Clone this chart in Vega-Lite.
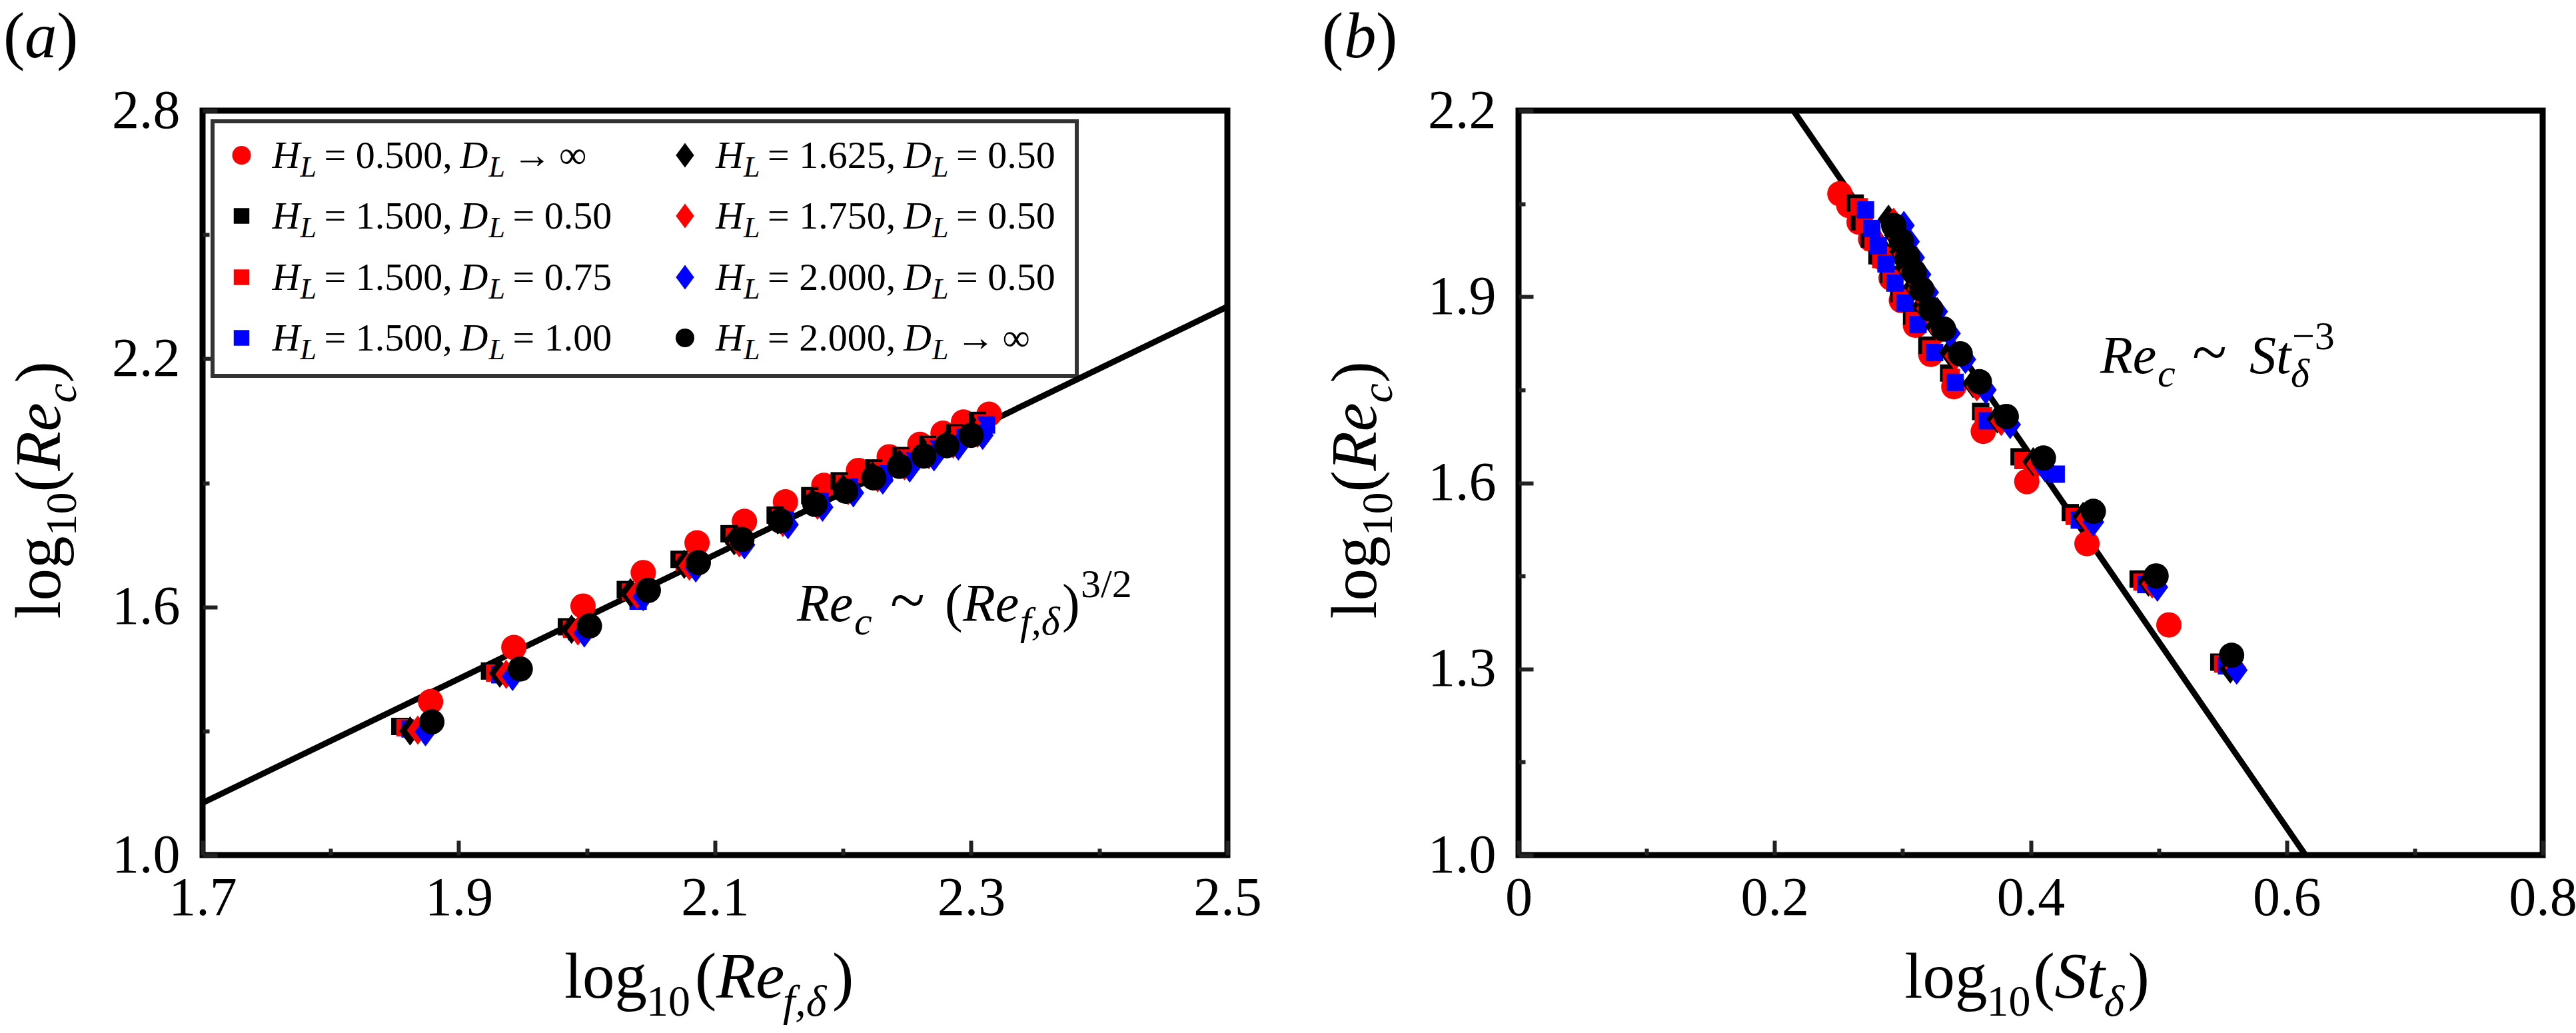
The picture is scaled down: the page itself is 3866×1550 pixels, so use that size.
{
  "$schema": "https://vega.github.io/schema/vega-lite/v6.json",
  "background": "white",
  "padding": {"left": 0, "top": 3, "right": 5, "bottom": 5},
  "bounds": "flush",
  "spacing": 437,
  "datasets": {
    "pts": [
      {"s":"HL=0.500, DL=inf","ref":1.878,"st":0.508,"rec":1.371},
      {"s":"HL=0.500, DL=inf","ref":1.943,"st":0.444,"rec":1.502},
      {"s":"HL=0.500, DL=inf","ref":1.997,"st":0.397,"rec":1.602},
      {"s":"HL=0.500, DL=inf","ref":2.044,"st":0.363,"rec":1.683},
      {"s":"HL=0.500, DL=inf","ref":2.086,"st":0.340,"rec":1.755},
      {"s":"HL=0.500, DL=inf","ref":2.123,"st":0.322,"rec":1.807},
      {"s":"HL=0.500, DL=inf","ref":2.155,"st":0.310,"rec":1.854},
      {"s":"HL=0.500, DL=inf","ref":2.185,"st":0.299,"rec":1.894},
      {"s":"HL=0.500, DL=inf","ref":2.212,"st":0.291,"rec":1.930},
      {"s":"HL=0.500, DL=inf","ref":2.236,"st":0.284,"rec":1.963},
      {"s":"HL=0.500, DL=inf","ref":2.260,"st":0.275,"rec":1.993},
      {"s":"HL=0.500, DL=inf","ref":2.278,"st":0.266,"rec":2.020},
      {"s":"HL=0.500, DL=inf","ref":2.294,"st":0.258,"rec":2.047},
      {"s":"HL=0.500, DL=inf","ref":2.314,"st":0.251,"rec":2.066},
      {"s":"HL=1.500, DL=0.50","ref":1.854,"st":0.547,"rec":1.311},
      {"s":"HL=1.500, DL=0.50","ref":1.924,"st":0.484,"rec":1.445},
      {"s":"HL=1.500, DL=0.50","ref":1.984,"st":0.431,"rec":1.552},
      {"s":"HL=1.500, DL=0.50","ref":2.030,"st":0.391,"rec":1.642},
      {"s":"HL=1.500, DL=0.50","ref":2.072,"st":0.361,"rec":1.715},
      {"s":"HL=1.500, DL=0.50","ref":2.111,"st":0.336,"rec":1.777},
      {"s":"HL=1.500, DL=0.50","ref":2.147,"st":0.319,"rec":1.822},
      {"s":"HL=1.500, DL=0.50","ref":2.174,"st":0.307,"rec":1.869},
      {"s":"HL=1.500, DL=0.50","ref":2.197,"st":0.297,"rec":1.905},
      {"s":"HL=1.500, DL=0.50","ref":2.224,"st":0.289,"rec":1.936},
      {"s":"HL=1.500, DL=0.50","ref":2.245,"st":0.280,"rec":1.966},
      {"s":"HL=1.500, DL=0.50","ref":2.266,"st":0.274,"rec":1.993},
      {"s":"HL=1.500, DL=0.50","ref":2.287,"st":0.266,"rec":2.021},
      {"s":"HL=1.500, DL=0.50","ref":2.305,"st":0.263,"rec":2.051},
      {"s":"HL=1.500, DL=0.75","ref":1.858,"st":0.550,"rec":1.308},
      {"s":"HL=1.500, DL=0.75","ref":1.928,"st":0.487,"rec":1.440},
      {"s":"HL=1.500, DL=0.75","ref":1.988,"st":0.434,"rec":1.546},
      {"s":"HL=1.500, DL=0.75","ref":2.034,"st":0.394,"rec":1.636},
      {"s":"HL=1.500, DL=0.75","ref":2.076,"st":0.363,"rec":1.708},
      {"s":"HL=1.500, DL=0.75","ref":2.115,"st":0.338,"rec":1.770},
      {"s":"HL=1.500, DL=0.75","ref":2.151,"st":0.322,"rec":1.816},
      {"s":"HL=1.500, DL=0.75","ref":2.178,"st":0.309,"rec":1.862},
      {"s":"HL=1.500, DL=0.75","ref":2.201,"st":0.299,"rec":1.898},
      {"s":"HL=1.500, DL=0.75","ref":2.228,"st":0.291,"rec":1.930},
      {"s":"HL=1.500, DL=0.75","ref":2.249,"st":0.283,"rec":1.960},
      {"s":"HL=1.500, DL=0.75","ref":2.270,"st":0.277,"rec":1.988},
      {"s":"HL=1.500, DL=0.75","ref":2.291,"st":0.270,"rec":2.016},
      {"s":"HL=1.500, DL=0.75","ref":2.309,"st":0.266,"rec":2.045},
      {"s":"HL=1.500, DL=1.00","ref":1.862,"st":0.553,"rec":1.305},
      {"s":"HL=1.500, DL=1.00","ref":1.932,"st":0.490,"rec":1.436},
      {"s":"HL=1.500, DL=1.00","ref":1.992,"st":0.438,"rec":1.540},
      {"s":"HL=1.500, DL=1.00","ref":2.040,"st":0.420,"rec":1.614},
      {"s":"HL=1.500, DL=1.00","ref":2.080,"st":0.366,"rec":1.700},
      {"s":"HL=1.500, DL=1.00","ref":2.119,"st":0.341,"rec":1.762},
      {"s":"HL=1.500, DL=1.00","ref":2.155,"st":0.325,"rec":1.810},
      {"s":"HL=1.500, DL=1.00","ref":2.182,"st":0.312,"rec":1.855},
      {"s":"HL=1.500, DL=1.00","ref":2.205,"st":0.302,"rec":1.890},
      {"s":"HL=1.500, DL=1.00","ref":2.232,"st":0.294,"rec":1.922},
      {"s":"HL=1.500, DL=1.00","ref":2.253,"st":0.287,"rec":1.953},
      {"s":"HL=1.500, DL=1.00","ref":2.274,"st":0.281,"rec":1.982},
      {"s":"HL=1.500, DL=1.00","ref":2.295,"st":0.276,"rec":2.010},
      {"s":"HL=1.500, DL=1.00","ref":2.312,"st":0.271,"rec":2.040},
      {"s":"HL=1.625, DL=0.50","ref":1.862,"st":0.556,"rec":1.300},
      {"s":"HL=1.625, DL=0.50","ref":1.932,"st":0.492,"rec":1.440},
      {"s":"HL=1.625, DL=0.50","ref":1.988,"st":0.441,"rec":1.546},
      {"s":"HL=1.625, DL=0.50","ref":2.034,"st":0.402,"rec":1.634},
      {"s":"HL=1.625, DL=0.50","ref":2.076,"st":0.374,"rec":1.703},
      {"s":"HL=1.625, DL=0.50","ref":2.115,"st":0.355,"rec":1.760},
      {"s":"HL=1.625, DL=0.50","ref":2.149,"st":0.337,"rec":1.810},
      {"s":"HL=1.625, DL=0.50","ref":2.176,"st":0.326,"rec":1.852},
      {"s":"HL=1.625, DL=0.50","ref":2.200,"st":0.316,"rec":1.886},
      {"s":"HL=1.625, DL=0.50","ref":2.223,"st":0.309,"rec":1.917},
      {"s":"HL=1.625, DL=0.50","ref":2.244,"st":0.303,"rec":1.946},
      {"s":"HL=1.625, DL=0.50","ref":2.263,"st":0.298,"rec":1.973},
      {"s":"HL=1.625, DL=0.50","ref":2.282,"st":0.294,"rec":1.999},
      {"s":"HL=1.625, DL=0.50","ref":2.302,"st":0.289,"rec":2.025},
      {"s":"HL=1.750, DL=0.50","ref":1.868,"st":0.560,"rec":1.302},
      {"s":"HL=1.750, DL=0.50","ref":1.937,"st":0.495,"rec":1.437},
      {"s":"HL=1.750, DL=0.50","ref":1.993,"st":0.444,"rec":1.542},
      {"s":"HL=1.750, DL=0.50","ref":2.039,"st":0.405,"rec":1.630},
      {"s":"HL=1.750, DL=0.50","ref":2.080,"st":0.377,"rec":1.699},
      {"s":"HL=1.750, DL=0.50","ref":2.119,"st":0.358,"rec":1.755},
      {"s":"HL=1.750, DL=0.50","ref":2.153,"st":0.341,"rec":1.804},
      {"s":"HL=1.750, DL=0.50","ref":2.180,"st":0.329,"rec":1.846},
      {"s":"HL=1.750, DL=0.50","ref":2.204,"st":0.319,"rec":1.881},
      {"s":"HL=1.750, DL=0.50","ref":2.227,"st":0.312,"rec":1.912},
      {"s":"HL=1.750, DL=0.50","ref":2.248,"st":0.306,"rec":1.941},
      {"s":"HL=1.750, DL=0.50","ref":2.267,"st":0.301,"rec":1.968},
      {"s":"HL=1.750, DL=0.50","ref":2.286,"st":0.297,"rec":1.994},
      {"s":"HL=1.750, DL=0.50","ref":2.305,"st":0.293,"rec":2.020},
      {"s":"HL=2.000, DL=0.50","ref":1.874,"st":0.561,"rec":1.298},
      {"s":"HL=2.000, DL=0.50","ref":1.942,"st":0.499,"rec":1.432},
      {"s":"HL=2.000, DL=0.50","ref":1.998,"st":0.449,"rec":1.537},
      {"s":"HL=2.000, DL=0.50","ref":2.044,"st":0.411,"rec":1.625},
      {"s":"HL=2.000, DL=0.50","ref":2.085,"st":0.384,"rec":1.694},
      {"s":"HL=2.000, DL=0.50","ref":2.123,"st":0.365,"rec":1.750},
      {"s":"HL=2.000, DL=0.50","ref":2.157,"st":0.349,"rec":1.799},
      {"s":"HL=2.000, DL=0.50","ref":2.184,"st":0.337,"rec":1.841},
      {"s":"HL=2.000, DL=0.50","ref":2.208,"st":0.327,"rec":1.876},
      {"s":"HL=2.000, DL=0.50","ref":2.231,"st":0.320,"rec":1.907},
      {"s":"HL=2.000, DL=0.50","ref":2.252,"st":0.314,"rec":1.936},
      {"s":"HL=2.000, DL=0.50","ref":2.271,"st":0.309,"rec":1.963},
      {"s":"HL=2.000, DL=0.50","ref":2.290,"st":0.305,"rec":1.989},
      {"s":"HL=2.000, DL=0.50","ref":2.309,"st":0.301,"rec":2.015},
      {"s":"HL=2.000, DL=inf","ref":1.879,"st":0.557,"rec":1.322},
      {"s":"HL=2.000, DL=inf","ref":1.948,"st":0.498,"rec":1.450},
      {"s":"HL=2.000, DL=inf","ref":2.002,"st":0.449,"rec":1.554},
      {"s":"HL=2.000, DL=inf","ref":2.048,"st":0.410,"rec":1.640},
      {"s":"HL=2.000, DL=inf","ref":2.087,"st":0.381,"rec":1.707},
      {"s":"HL=2.000, DL=inf","ref":2.121,"st":0.360,"rec":1.763},
      {"s":"HL=2.000, DL=inf","ref":2.151,"st":0.345,"rec":1.808},
      {"s":"HL=2.000, DL=inf","ref":2.178,"st":0.332,"rec":1.848},
      {"s":"HL=2.000, DL=inf","ref":2.202,"st":0.322,"rec":1.880},
      {"s":"HL=2.000, DL=inf","ref":2.224,"st":0.315,"rec":1.912},
      {"s":"HL=2.000, DL=inf","ref":2.244,"st":0.309,"rec":1.940},
      {"s":"HL=2.000, DL=inf","ref":2.263,"st":0.304,"rec":1.965},
      {"s":"HL=2.000, DL=inf","ref":2.281,"st":0.299,"rec":1.990},
      {"s":"HL=2.000, DL=inf","ref":2.300,"st":0.293,"rec":2.015}
    ],
    "leg": [
      {"s":"HL=0.500, DL=inf","lx":1.73043,"ly":2.6920,"hv":"= 0.500,","dv":"→\u2009∞"},
      {"s":"HL=1.500, DL=0.50","lx":1.73043,"ly":2.5454,"hv":"= 1.500,","dv":"= 0.50"},
      {"s":"HL=1.500, DL=0.75","lx":1.73043,"ly":2.3971,"hv":"= 1.500,","dv":"= 0.75"},
      {"s":"HL=1.500, DL=1.00","lx":1.73043,"ly":2.2505,"hv":"= 1.500,","dv":"= 1.00"},
      {"s":"HL=1.625, DL=0.50","lx":2.07659,"ly":2.6920,"hv":"= 1.625,","dv":"= 0.50"},
      {"s":"HL=1.750, DL=0.50","lx":2.07659,"ly":2.5454,"hv":"= 1.750,","dv":"= 0.50"},
      {"s":"HL=2.000, DL=0.50","lx":2.07659,"ly":2.3971,"hv":"= 2.000,","dv":"= 0.50"},
      {"s":"HL=2.000, DL=inf","lx":2.07659,"ly":2.2505,"hv":"= 2.000,","dv":"→\u2009∞"}
    ],
    "fitA": [{"ref":1.7,"rec":1.126},{"ref":2.5,"rec":2.326}],
    "fitB": [{"st":0.2147,"rec":2.2},{"st":0.6147,"rec":1.0}]
  },
  "hconcat": [
    {
      "width": 1538,
      "height": 1117,
      "resolve": {"axis": {"x": "independent", "y": "independent"}},
      "layer": [
        {
          "data": {"values": [{}]},
          "mark": {"type": "rect", "fill": "white", "stroke": "#333", "strokeWidth": 6},
          "encoding": {
            "x": {"datum": 1.7078, "type": "quantitative", "axis": null},
            "x2": {"datum": 2.38244},
            "y": {"datum": 2.7742, "type": "quantitative", "axis": null},
            "y2": {"datum": 2.15864}
          }
        },
        {
          "data": {"name": "fitA"},
          "mark": {"type": "line", "color": "black", "strokeWidth": 9},
          "encoding": {
            "x": {"field": "ref", "type": "quantitative", "axis": null},
            "y": {"field": "rec", "type": "quantitative", "axis": null}
          }
        },
        {
          "data": {"name": "pts"},
          "mark": {"type": "point", "filled": true, "opacity": 1, "strokeWidth": 0},
          "encoding": {
            "x": {
              "field": "ref", "type": "quantitative",
              "scale": {"domain": [1.7, 2.5], "nice": false, "zero": false},
              "axis": {
                "title": null,
                "values": [1.7, 1.8, 1.9, 2.0, 2.1, 2.2, 2.3, 2.4, 2.5],
                "labelExpr": "round(datum.value*10) % 2 == 1 ? format(datum.value, '.1f') : ''",
                "tickSize": {"condition": {"test": "round(datum.value*10) % 2 == 1", "value": -22}, "value": -10},
                "labelPadding": 46
              }
            },
            "y": {
              "field": "rec", "type": "quantitative",
              "scale": {"domain": [1.0, 2.8], "nice": false, "zero": false},
              "axis": {
                "title": null,
                "values": [1.0, 1.3, 1.6, 1.9, 2.2, 2.5, 2.8],
                "labelExpr": "(round(datum.value*10) - 10) % 6 == 0 ? format(datum.value, '.1f') : ''",
                "tickSize": {"condition": {"test": "(round(datum.value*10) - 10) % 6 == 0", "value": -22}, "value": -10},
                "labelPadding": 56
              }
            },
            "color": {
              "field": "s", "type": "nominal", "legend": null,
              "scale": {
                "domain": ["HL=0.500, DL=inf","HL=1.500, DL=0.50","HL=1.500, DL=0.75","HL=1.500, DL=1.00","HL=1.625, DL=0.50","HL=1.750, DL=0.50","HL=2.000, DL=0.50","HL=2.000, DL=inf"],
                "range": ["#ff0000","#000000","#ff0000","#0000ff","#000000","#ff0000","#0000ff","#000000"]
              }
            },
            "shape": {
              "field": "s", "type": "nominal", "legend": null,
              "scale": {
                "domain": ["HL=0.500, DL=inf","HL=1.500, DL=0.50","HL=1.500, DL=0.75","HL=1.500, DL=1.00","HL=1.625, DL=0.50","HL=1.750, DL=0.50","HL=2.000, DL=0.50","HL=2.000, DL=inf"],
                "range": ["circle","square","square","square","M0,-1L0.74,0L0,1L-0.74,0Z","M0,-1L0.74,0L0,1L-0.74,0Z","M0,-1L0.74,0L0,1L-0.74,0Z","circle"]
              }
            },
            "size": {
              "field": "s", "type": "nominal", "legend": null,
              "scale": {
                "type": "ordinal",
                "domain": ["HL=0.500, DL=inf","HL=1.500, DL=0.50","HL=1.500, DL=0.75","HL=1.500, DL=1.00","HL=1.625, DL=0.50","HL=1.750, DL=0.50","HL=2.000, DL=0.50","HL=2.000, DL=inf"],
                "range": [1444, 676, 676, 676, 1936, 1936, 1936, 1444]
              }
            }
          }
        },
        {
          "data": {"name": "leg"},
          "transform": [{"filter": {"field": "s", "oneOf": ["HL=0.500, DL=inf", "HL=2.000, DL=inf"]}}],
          "mark": {"type": "point", "filled": true, "opacity": 1, "strokeWidth": 0, "size": 784},
          "encoding": {
            "x": {"field": "lx", "type": "quantitative", "axis": null},
            "y": {"field": "ly", "type": "quantitative", "axis": null},
            "color": {"field": "s", "type": "nominal", "legend": null},
            "shape": {"field": "s", "type": "nominal", "legend": null}
          }
        },
        {
          "data": {"name": "leg"},
          "transform": [{"filter": {"field": "s", "oneOf": ["HL=1.500, DL=0.50", "HL=1.500, DL=0.75", "HL=1.500, DL=1.00"]}}],
          "mark": {"type": "point", "filled": true, "opacity": 1, "strokeWidth": 0, "size": 552},
          "encoding": {
            "x": {"field": "lx", "type": "quantitative", "axis": null},
            "y": {"field": "ly", "type": "quantitative", "axis": null},
            "color": {"field": "s", "type": "nominal", "legend": null},
            "shape": {"field": "s", "type": "nominal", "legend": null}
          }
        },
        {
          "data": {"name": "leg"},
          "transform": [{"filter": {"field": "s", "oneOf": ["HL=1.625, DL=0.50", "HL=1.750, DL=0.50", "HL=2.000, DL=0.50"]}}],
          "mark": {"type": "point", "filled": true, "opacity": 1, "strokeWidth": 0, "size": 1369},
          "encoding": {
            "x": {"field": "lx", "type": "quantitative", "axis": null},
            "y": {"field": "ly", "type": "quantitative", "axis": null},
            "color": {"field": "s", "type": "nominal", "legend": null},
            "shape": {"field": "s", "type": "nominal", "legend": null}
          }
        },
        {
          "data": {"name": "leg"},
          "mark": {"type": "text", "text": "H", "fontSize": 58, "fontStyle": "italic", "align": "left", "dx": 46, "dy": 19},
          "encoding": {"x": {"field": "lx", "type": "quantitative", "axis": null}, "y": {"field": "ly", "type": "quantitative", "axis": null}}
        },
        {
          "data": {"name": "leg"},
          "mark": {"type": "text", "text": "L", "fontSize": 44, "fontStyle": "italic", "align": "left", "dx": 88, "dy": 32},
          "encoding": {"x": {"field": "lx", "type": "quantitative", "axis": null}, "y": {"field": "ly", "type": "quantitative", "axis": null}}
        },
        {
          "data": {"name": "leg"},
          "mark": {"type": "text", "fontSize": 58, "align": "left", "dx": 124, "dy": 19},
          "encoding": {"x": {"field": "lx", "type": "quantitative", "axis": null}, "y": {"field": "ly", "type": "quantitative", "axis": null}, "text": {"field": "hv"}}
        },
        {
          "data": {"name": "leg"},
          "mark": {"type": "text", "text": "D", "fontSize": 58, "fontStyle": "italic", "align": "left", "dx": 328, "dy": 19},
          "encoding": {"x": {"field": "lx", "type": "quantitative", "axis": null}, "y": {"field": "ly", "type": "quantitative", "axis": null}}
        },
        {
          "data": {"name": "leg"},
          "mark": {"type": "text", "text": "L", "fontSize": 44, "fontStyle": "italic", "align": "left", "dx": 371, "dy": 32},
          "encoding": {"x": {"field": "lx", "type": "quantitative", "axis": null}, "y": {"field": "ly", "type": "quantitative", "axis": null}}
        },
        {
          "data": {"name": "leg"},
          "mark": {"type": "text", "fontSize": 58, "align": "left", "dx": 407, "dy": 19},
          "encoding": {"x": {"field": "lx", "type": "quantitative", "axis": null}, "y": {"field": "ly", "type": "quantitative", "axis": null}, "text": {"field": "dv"}}
        },
        {
          "data": {"values": [{}]},
          "mark": {"type": "text", "text": "Re", "fontSize": 80, "fontStyle": "italic", "align": "left", "dx": 0, "dy": 0},
          "encoding": {"x": {"datum": 2.16398, "axis": null}, "y": {"datum": 1.56562, "axis": null}}
        },
        {
          "data": {"values": [{}]},
          "mark": {"type": "text", "text": "c", "fontSize": 60, "fontStyle": "italic", "align": "left", "dx": 86, "dy": 20},
          "encoding": {"x": {"datum": 2.16398, "axis": null}, "y": {"datum": 1.56562, "axis": null}}
        },
        {
          "data": {"values": [{}]},
          "mark": {"type": "text", "text": "~", "fontSize": 96, "align": "left", "dx": 140, "dy": 0},
          "encoding": {"x": {"datum": 2.16398, "axis": null}, "y": {"datum": 1.56562, "axis": null}}
        },
        {
          "data": {"values": [{}]},
          "mark": {"type": "text", "text": "(", "fontSize": 80, "align": "left", "dx": 222, "dy": 0},
          "encoding": {"x": {"datum": 2.16398, "axis": null}, "y": {"datum": 1.56562, "axis": null}}
        },
        {
          "data": {"values": [{}]},
          "mark": {"type": "text", "text": "Re", "fontSize": 80, "fontStyle": "italic", "align": "left", "dx": 249, "dy": 0},
          "encoding": {"x": {"datum": 2.16398, "axis": null}, "y": {"datum": 1.56562, "axis": null}}
        },
        {
          "data": {"values": [{}]},
          "mark": {"type": "text", "text": "f,δ", "fontSize": 60, "fontStyle": "italic", "align": "left", "dx": 335, "dy": 20},
          "encoding": {"x": {"datum": 2.16398, "axis": null}, "y": {"datum": 1.56562, "axis": null}}
        },
        {
          "data": {"values": [{}]},
          "mark": {"type": "text", "text": ")", "fontSize": 80, "align": "left", "dx": 398, "dy": 0},
          "encoding": {"x": {"datum": 2.16398, "axis": null}, "y": {"datum": 1.56562, "axis": null}}
        },
        {
          "data": {"values": [{}]},
          "mark": {"type": "text", "text": "3/2", "fontSize": 60, "align": "left", "dx": 426, "dy": -36},
          "encoding": {"x": {"datum": 2.16398, "axis": null}, "y": {"datum": 1.56562, "axis": null}}
        },
        {
          "data": {"values": [{}]},
          "mark": {"type": "text", "text": "(", "fontSize": 97, "align": "left", "dx": -299, "dy": -80},
          "encoding": {"x": {"datum": 1.7, "axis": null}, "y": {"datum": 2.8, "axis": null}}
        },
        {
          "data": {"values": [{}]},
          "mark": {"type": "text", "text": "a", "fontSize": 97, "fontStyle": "italic", "align": "left", "dx": -267, "dy": -80},
          "encoding": {"x": {"datum": 1.7, "axis": null}, "y": {"datum": 2.8, "axis": null}}
        },
        {
          "data": {"values": [{}]},
          "mark": {"type": "text", "text": ")", "fontSize": 97, "align": "left", "dx": -219, "dy": -80},
          "encoding": {"x": {"datum": 1.7, "axis": null}, "y": {"datum": 2.8, "axis": null}}
        },
        {
          "data": {"values": [{}]},
          "mark": {"type": "text", "text": "log", "fontSize": 97, "align": "left", "dx": -226, "dy": 214},
          "encoding": {"x": {"datum": 2.1, "axis": null}, "y": {"datum": 1.0, "axis": null}}
        },
        {
          "data": {"values": [{}]},
          "mark": {"type": "text", "text": "10", "fontSize": 66, "align": "left", "dx": -103, "dy": 241},
          "encoding": {"x": {"datum": 2.1, "axis": null}, "y": {"datum": 1.0, "axis": null}}
        },
        {
          "data": {"values": [{}]},
          "mark": {"type": "text", "text": "(", "fontSize": 97, "align": "left", "dx": -30, "dy": 214},
          "encoding": {"x": {"datum": 2.1, "axis": null}, "y": {"datum": 1.0, "axis": null}}
        },
        {
          "data": {"values": [{}]},
          "mark": {"type": "text", "text": "Re", "fontSize": 97, "fontStyle": "italic", "align": "left", "dx": 2, "dy": 214},
          "encoding": {"x": {"datum": 2.1, "axis": null}, "y": {"datum": 1.0, "axis": null}}
        },
        {
          "data": {"values": [{}]},
          "mark": {"type": "text", "text": "f,δ", "fontSize": 66, "fontStyle": "italic", "align": "left", "dx": 102, "dy": 241},
          "encoding": {"x": {"datum": 2.1, "axis": null}, "y": {"datum": 1.0, "axis": null}}
        },
        {
          "data": {"values": [{}]},
          "mark": {"type": "text", "text": ")", "fontSize": 97, "align": "left", "dx": 176, "dy": 214},
          "encoding": {"x": {"datum": 2.1, "axis": null}, "y": {"datum": 1.0, "axis": null}}
        },
        {
          "data": {"values": [{}]},
          "mark": {"type": "text", "text": "log", "fontSize": 97, "align": "left", "angle": 270, "dx": -204, "dy": -214},
          "encoding": {"x": {"datum": 1.7, "axis": null}, "y": {"datum": 1.9, "axis": null}}
        },
        {
          "data": {"values": [{}]},
          "mark": {"type": "text", "text": "10", "fontSize": 66, "align": "left", "angle": 270, "dx": -80, "dy": -190},
          "encoding": {"x": {"datum": 1.7, "axis": null}, "y": {"datum": 1.9, "axis": null}}
        },
        {
          "data": {"values": [{}]},
          "mark": {"type": "text", "text": "(", "fontSize": 97, "align": "left", "angle": 270, "dx": -14, "dy": -214},
          "encoding": {"x": {"datum": 1.7, "axis": null}, "y": {"datum": 1.9, "axis": null}}
        },
        {
          "data": {"values": [{}]},
          "mark": {"type": "text", "text": "Re", "fontSize": 97, "fontStyle": "italic", "align": "left", "angle": 270, "dx": 18, "dy": -214},
          "encoding": {"x": {"datum": 1.7, "axis": null}, "y": {"datum": 1.9, "axis": null}}
        },
        {
          "data": {"values": [{}]},
          "mark": {"type": "text", "text": "c", "fontSize": 66, "fontStyle": "italic", "align": "left", "angle": 270, "dx": 120, "dy": -190},
          "encoding": {"x": {"datum": 1.7, "axis": null}, "y": {"datum": 1.9, "axis": null}}
        },
        {
          "data": {"values": [{}]},
          "mark": {"type": "text", "text": ")", "fontSize": 97, "align": "left", "angle": 270, "dx": 150, "dy": -214},
          "encoding": {"x": {"datum": 1.7, "axis": null}, "y": {"datum": 1.9, "axis": null}}
        }
      ]
    },
    {
      "width": 1537,
      "height": 1117,
      "resolve": {"axis": {"x": "independent", "y": "independent"}},
      "layer": [
        {
          "data": {"name": "fitB"},
          "mark": {"type": "line", "color": "black", "strokeWidth": 9},
          "encoding": {
            "x": {"field": "st", "type": "quantitative", "axis": null},
            "y": {"field": "rec", "type": "quantitative", "axis": null}
          }
        },
        {
          "data": {"name": "pts"},
          "mark": {"type": "point", "filled": true, "opacity": 1, "strokeWidth": 0},
          "encoding": {
            "x": {
              "field": "st", "type": "quantitative",
              "scale": {"domain": [0, 0.8], "nice": false, "zero": false},
              "axis": {
                "title": null,
                "values": [0, 0.1, 0.2, 0.3, 0.4, 0.5, 0.6, 0.7, 0.8],
                "labelExpr": "round(datum.value*10) % 2 == 0 ? (datum.value == 0 ? '0' : format(datum.value, '.1f')) : ''",
                "tickSize": {"condition": {"test": "round(datum.value*10) % 2 == 0", "value": -22}, "value": -10},
                "labelPadding": 46
              }
            },
            "y": {
              "field": "rec", "type": "quantitative",
              "scale": {"domain": [1.0, 2.2], "nice": false, "zero": false},
              "axis": {
                "title": null,
                "values": [1.0, 1.15, 1.3, 1.45, 1.6, 1.75, 1.9, 2.05, 2.2],
                "labelExpr": "(round(datum.value*100) - 100) % 30 == 0 ? format(datum.value, '.1f') : ''",
                "tickSize": {"condition": {"test": "(round(datum.value*100) - 100) % 30 == 0", "value": -22}, "value": -10},
                "labelPadding": 56
              }
            },
            "color": {
              "field": "s", "type": "nominal", "legend": null,
              "scale": {
                "domain": ["HL=0.500, DL=inf","HL=1.500, DL=0.50","HL=1.500, DL=0.75","HL=1.500, DL=1.00","HL=1.625, DL=0.50","HL=1.750, DL=0.50","HL=2.000, DL=0.50","HL=2.000, DL=inf"],
                "range": ["#ff0000","#000000","#ff0000","#0000ff","#000000","#ff0000","#0000ff","#000000"]
              }
            },
            "shape": {
              "field": "s", "type": "nominal", "legend": null,
              "scale": {
                "domain": ["HL=0.500, DL=inf","HL=1.500, DL=0.50","HL=1.500, DL=0.75","HL=1.500, DL=1.00","HL=1.625, DL=0.50","HL=1.750, DL=0.50","HL=2.000, DL=0.50","HL=2.000, DL=inf"],
                "range": ["circle","square","square","square","M0,-1L0.74,0L0,1L-0.74,0Z","M0,-1L0.74,0L0,1L-0.74,0Z","M0,-1L0.74,0L0,1L-0.74,0Z","circle"]
              }
            },
            "size": {
              "field": "s", "type": "nominal", "legend": null,
              "scale": {
                "type": "ordinal",
                "domain": ["HL=0.500, DL=inf","HL=1.500, DL=0.50","HL=1.500, DL=0.75","HL=1.500, DL=1.00","HL=1.625, DL=0.50","HL=1.750, DL=0.50","HL=2.000, DL=0.50","HL=2.000, DL=inf"],
                "range": [1444, 676, 676, 676, 1936, 1936, 1936, 1444]
              }
            }
          }
        },
        {
          "data": {"values": [{}]},
          "mark": {"type": "text", "text": "Re", "fontSize": 80, "fontStyle": "italic", "align": "left", "dx": 0, "dy": 0},
          "encoding": {"x": {"datum": 0.45439, "axis": null}, "y": {"datum": 1.77672, "axis": null}}
        },
        {
          "data": {"values": [{}]},
          "mark": {"type": "text", "text": "c", "fontSize": 60, "fontStyle": "italic", "align": "left", "dx": 86, "dy": 20},
          "encoding": {"x": {"datum": 0.45439, "axis": null}, "y": {"datum": 1.77672, "axis": null}}
        },
        {
          "data": {"values": [{}]},
          "mark": {"type": "text", "text": "~", "fontSize": 96, "align": "left", "dx": 138, "dy": 0},
          "encoding": {"x": {"datum": 0.45439, "axis": null}, "y": {"datum": 1.77672, "axis": null}}
        },
        {
          "data": {"values": [{}]},
          "mark": {"type": "text", "text": "St", "fontSize": 80, "fontStyle": "italic", "align": "left", "dx": 224, "dy": 0},
          "encoding": {"x": {"datum": 0.45439, "axis": null}, "y": {"datum": 1.77672, "axis": null}}
        },
        {
          "data": {"values": [{}]},
          "mark": {"type": "text", "text": "δ", "fontSize": 60, "fontStyle": "italic", "align": "left", "dx": 286, "dy": 20},
          "encoding": {"x": {"datum": 0.45439, "axis": null}, "y": {"datum": 1.77672, "axis": null}}
        },
        {
          "data": {"values": [{}]},
          "mark": {"type": "text", "text": "−3", "fontSize": 60, "align": "left", "dx": 288, "dy": -36},
          "encoding": {"x": {"datum": 0.45439, "axis": null}, "y": {"datum": 1.77672, "axis": null}}
        },
        {
          "data": {"values": [{}]},
          "mark": {"type": "text", "text": "(", "fontSize": 97, "align": "left", "dx": -295, "dy": -80},
          "encoding": {"x": {"datum": 0, "axis": null}, "y": {"datum": 2.2, "axis": null}}
        },
        {
          "data": {"values": [{}]},
          "mark": {"type": "text", "text": "b", "fontSize": 97, "fontStyle": "italic", "align": "left", "dx": -262, "dy": -80},
          "encoding": {"x": {"datum": 0, "axis": null}, "y": {"datum": 2.2, "axis": null}}
        },
        {
          "data": {"values": [{}]},
          "mark": {"type": "text", "text": ")", "fontSize": 97, "align": "left", "dx": -214, "dy": -80},
          "encoding": {"x": {"datum": 0, "axis": null}, "y": {"datum": 2.2, "axis": null}}
        },
        {
          "data": {"values": [{}]},
          "mark": {"type": "text", "text": "log", "fontSize": 97, "align": "left", "dx": -189, "dy": 214},
          "encoding": {"x": {"datum": 0.4, "axis": null}, "y": {"datum": 1.0, "axis": null}}
        },
        {
          "data": {"values": [{}]},
          "mark": {"type": "text", "text": "10", "fontSize": 66, "align": "left", "dx": -66, "dy": 241},
          "encoding": {"x": {"datum": 0.4, "axis": null}, "y": {"datum": 1.0, "axis": null}}
        },
        {
          "data": {"values": [{}]},
          "mark": {"type": "text", "text": "(", "fontSize": 97, "align": "left", "dx": 4, "dy": 214},
          "encoding": {"x": {"datum": 0.4, "axis": null}, "y": {"datum": 1.0, "axis": null}}
        },
        {
          "data": {"values": [{}]},
          "mark": {"type": "text", "text": "St", "fontSize": 97, "fontStyle": "italic", "align": "left", "dx": 36, "dy": 214},
          "encoding": {"x": {"datum": 0.4, "axis": null}, "y": {"datum": 1.0, "axis": null}}
        },
        {
          "data": {"values": [{}]},
          "mark": {"type": "text", "text": "δ", "fontSize": 66, "fontStyle": "italic", "align": "left", "dx": 110, "dy": 241},
          "encoding": {"x": {"datum": 0.4, "axis": null}, "y": {"datum": 1.0, "axis": null}}
        },
        {
          "data": {"values": [{}]},
          "mark": {"type": "text", "text": ")", "fontSize": 97, "align": "left", "dx": 146, "dy": 214},
          "encoding": {"x": {"datum": 0.4, "axis": null}, "y": {"datum": 1.0, "axis": null}}
        },
        {
          "data": {"values": [{}]},
          "mark": {"type": "text", "text": "log", "fontSize": 97, "align": "left", "angle": 270, "dx": -204, "dy": -214},
          "encoding": {"x": {"datum": 0, "axis": null}, "y": {"datum": 1.6, "axis": null}}
        },
        {
          "data": {"values": [{}]},
          "mark": {"type": "text", "text": "10", "fontSize": 66, "align": "left", "angle": 270, "dx": -80, "dy": -190},
          "encoding": {"x": {"datum": 0, "axis": null}, "y": {"datum": 1.6, "axis": null}}
        },
        {
          "data": {"values": [{}]},
          "mark": {"type": "text", "text": "(", "fontSize": 97, "align": "left", "angle": 270, "dx": -14, "dy": -214},
          "encoding": {"x": {"datum": 0, "axis": null}, "y": {"datum": 1.6, "axis": null}}
        },
        {
          "data": {"values": [{}]},
          "mark": {"type": "text", "text": "Re", "fontSize": 97, "fontStyle": "italic", "align": "left", "angle": 270, "dx": 18, "dy": -214},
          "encoding": {"x": {"datum": 0, "axis": null}, "y": {"datum": 1.6, "axis": null}}
        },
        {
          "data": {"values": [{}]},
          "mark": {"type": "text", "text": "c", "fontSize": 66, "fontStyle": "italic", "align": "left", "angle": 270, "dx": 120, "dy": -190},
          "encoding": {"x": {"datum": 0, "axis": null}, "y": {"datum": 1.6, "axis": null}}
        },
        {
          "data": {"values": [{}]},
          "mark": {"type": "text", "text": ")", "fontSize": 97, "align": "left", "angle": 270, "dx": 150, "dy": -214},
          "encoding": {"x": {"datum": 0, "axis": null}, "y": {"datum": 1.6, "axis": null}}
        }
      ]
    }
  ],
  "config": {
    "view": {"stroke": "#000000", "strokeWidth": 9},
    "text": {"font": "Liberation Serif", "color": "#000000", "baseline": "alphabetic"},
    "axis": {
      "domain": false,
      "grid": false,
      "tickColor": "#222222",
      "tickWidth": 6,
      "labelFont": "Liberation Serif",
      "labelFontSize": 82,
      "labelColor": "#000000",
      "labelFlush": false,
      "labelOverlap": false,
      "labelBound": false
    }
  }
}
